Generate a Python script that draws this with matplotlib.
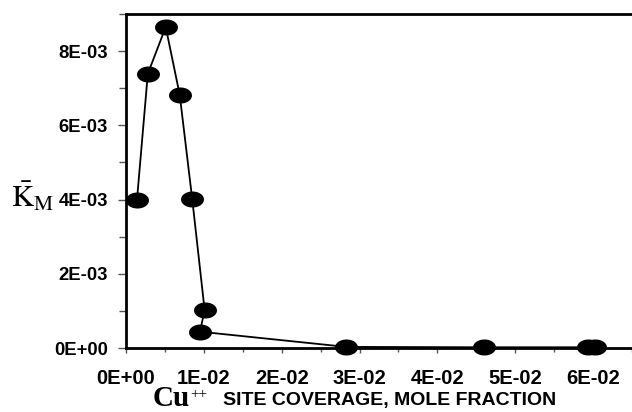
import matplotlib
matplotlib.use("Agg")
import matplotlib.pyplot as plt
from matplotlib.path import Path
from matplotlib.ticker import MultipleLocator, FuncFormatter
import numpy as np

# Cu++ site coverage (mole fraction) and K_M values
coverage = [0.00141, 0.0028, 0.0051, 0.0069, 0.0085, 0.0101, 0.0095, 0.0283, 0.0460, 0.0594, 0.0603]
k_m = [0.00400, 0.00739, 0.00865, 0.00682, 0.00402, 0.00102, 0.00044, 0.00003, 0.00002, 0.00002, 0.00002]

plt.rcParams["font.family"] = ["Liberation Sans", "DejaVu Sans"]
plt.rcParams["mathtext.fontset"] = "stix"

fig = plt.figure(figsize=(6.32, 4.12), dpi=100)
ax = fig.add_axes([0.1994, 0.1553, 0.8006, 0.8107])

# ellipse-shaped marker, wider than tall
t = np.linspace(0, 2 * np.pi, 60)
ellipse = Path(np.column_stack([np.cos(t), 0.68 * np.sin(t)]), closed=True)

ax.plot(coverage, k_m, color="black", lw=1.3, marker=ellipse, markersize=15.5,
        markerfacecolor="black", markeredgecolor="black", clip_on=False, zorder=3)

ax.set_xlim(0, 0.065)
ax.set_ylim(0, 0.009)

ax.xaxis.set_major_locator(MultipleLocator(0.01))
ax.xaxis.set_minor_locator(MultipleLocator(0.005))
ax.yaxis.set_major_locator(MultipleLocator(0.002))
ax.yaxis.set_minor_locator(MultipleLocator(0.001))
fmt = FuncFormatter(lambda v, p: "{:.0E}".format(v))
ax.xaxis.set_major_formatter(fmt)
ax.yaxis.set_major_formatter(fmt)

ax.tick_params(which="both", direction="out", width=1.0, color="#555555")
ax.tick_params(axis="y", which="major", length=6, labelsize=13.3, pad=7)
ax.tick_params(axis="y", which="minor", length=5)
ax.tick_params(axis="x", which="major", length=3.5, labelsize=14.5, pad=11.5)
ax.tick_params(axis="x", which="minor", length=3)
for lab in ax.get_xticklabels() + ax.get_yticklabels():
    lab.set_fontweight("bold")

for side in ["left", "top", "bottom"]:
    ax.spines[side].set_linewidth(2)
ax.spines["right"].set_visible(False)

# y label: K-bar sub M
fig.text(0.018, (412 - 197) / 412, r"$\bar{\mathrm{K}}_{\mathrm{M}}$", fontsize=22,
         ha="left", va="center")

# x label: Cu++ SITE COVERAGE, MOLE FRACTION
fig.text(153 / 632, 0.5 / 412, "Cu", fontsize=21, fontweight="bold",
         family=["Liberation Serif", "DejaVu Serif"], ha="left", va="bottom")
fig.text(190 / 632, (412 - 395) / 412, "++", fontsize=11,
         family=["Liberation Serif", "DejaVu Serif"], ha="left", va="center")
fig.text(223 / 632, (412 - 401) / 412, "SITE COVERAGE, MOLE FRACTION", fontsize=14,
         fontweight="bold", ha="left", va="center")

fig.savefig("out.png", dpi=100)
